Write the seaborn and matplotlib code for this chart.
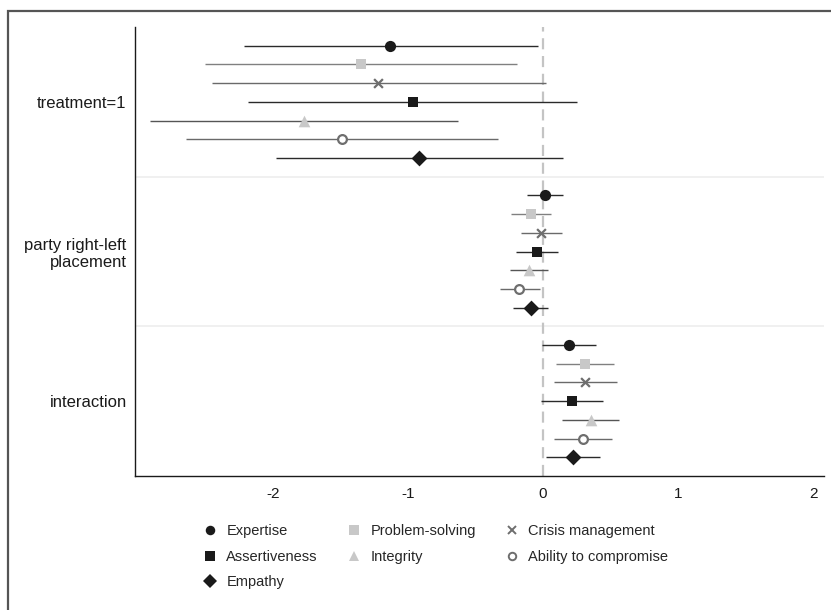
import numpy as np
import pandas as pd
import seaborn as sns
import matplotlib.pyplot as plt
from matplotlib.lines import Line2D
from matplotlib.patches import Rectangle

# ── Data ─────────────────────────────────────────────────────────────────────
groups = ["treatment=1", "party right-left\nplacement", "interaction"]
traits = ["Expertise", "Problem-solving", "Crisis management", "Assertiveness",
          "Integrity", "Ability to compromise", "Empathy"]

est_treat = [-1.13, -1.35, -1.22, -0.96, -1.77, -1.49, -0.92]
lo_treat  = [-2.21, -2.50, -2.45, -2.18, -2.91, -2.64, -1.98]
hi_treat  = [-0.04, -0.19, 0.02, 0.25, -0.63, -0.33, 0.15]

est_party = [0.015, -0.09, -0.015, -0.045, -0.105, -0.175, -0.09]
lo_party  = [-0.115, -0.235, -0.165, -0.20, -0.245, -0.32, -0.22]
hi_party  = [0.15, 0.06, 0.14, 0.11, 0.04, -0.02, 0.04]

est_inter = [0.19, 0.31, 0.31, 0.215, 0.355, 0.295, 0.225]
lo_inter  = [-0.005, 0.095, 0.08, -0.015, 0.14, 0.085, 0.025]
hi_inter  = [0.395, 0.525, 0.545, 0.445, 0.565, 0.51, 0.425]

rows = []
for g, (est, lo, hi) in enumerate([(est_treat, lo_treat, hi_treat),
                                   (est_party, lo_party, hi_party),
                                   (est_inter, lo_inter, hi_inter)]):
    for k, t in enumerate(traits):
        rows.append({"group": groups[g], "trait": t, "est": est[k],
                     "lo": lo[k], "hi": hi[k], "y": g * 8 + k})
df = pd.DataFrame(rows)

# ── Styles ───────────────────────────────────────────────────────────────────
markers   = {"Expertise": "o", "Problem-solving": "s", "Crisis management": "x",
             "Assertiveness": "s", "Integrity": "^", "Ability to compromise": "o",
             "Empathy": "D"}
fills     = {"Expertise": "#1a1a1a", "Problem-solving": "#c8c8c8",
             "Crisis management": "#6e6e6e", "Assertiveness": "#1a1a1a",
             "Integrity": "#c8c8c8", "Ability to compromise": "white",
             "Empathy": "#1a1a1a"}
edges     = {"Expertise": "#1a1a1a", "Problem-solving": "#c8c8c8",
             "Crisis management": "#6e6e6e", "Assertiveness": "#1a1a1a",
             "Integrity": "#c8c8c8", "Ability to compromise": "#6e6e6e",
             "Empathy": "#1a1a1a"}
sizes     = {"Expertise": 65, "Problem-solving": 60, "Crisis management": 40,
             "Assertiveness": 60, "Integrity": 70, "Ability to compromise": 40,
             "Empathy": 65}
linecols  = {"Expertise": "#2a2a2a", "Problem-solving": "#808080",
             "Crisis management": "#6a6a6a", "Assertiveness": "#2a2a2a",
             "Integrity": "#555555", "Ability to compromise": "#6a6a6a",
             "Empathy": "#2a2a2a"}

sns.set_style("white")
plt.rcParams["font.family"] = ["Liberation Sans", "DejaVu Sans"]

fig = plt.figure(figsize=(8.31, 6.10), dpi=100)
ax = fig.add_axes([135 / 831, 1 - 476 / 610, (824 - 135) / 831, (476 - 27) / 610])

# group separators and zero line
for s in [7, 15]:
    ax.axhline(s, color="#eeeeee", lw=1.2, zorder=0)
ax.axvline(0, color="#c4c4c4", lw=1.6, ls=(0, (5, 3)), zorder=1)

for t in traits:
    sub = df[df["trait"] == t]
    ax.hlines(sub["y"], sub["lo"], sub["hi"], color=linecols[t], lw=1.0, zorder=2)
    sns.scatterplot(data=sub, x="est", y="y", marker=markers[t], s=sizes[t],
                    color=fills[t], edgecolor=edges[t],
                    linewidth=1.6 if t in ("Crisis management", "Ability to compromise") else 0,
                    ax=ax, legend=False, zorder=3)

ax.set_xlim(-3.02, 2.08)
ax.set_ylim(23, -1)
ax.set_xticks([-2, -1, 0, 1, 2])
ax.set_xticklabels(["-2", "-1", "0", "1", "2"])
ax.set_yticks([3, 11, 19])
ax.set_yticklabels(groups)
ax.set_xlabel("")
ax.set_ylabel("")
ax.tick_params(axis="both", length=0, colors="#1a1a1a")
ax.tick_params(axis="x", pad=8, labelsize=11)
ax.tick_params(axis="y", pad=6, labelsize=12)
for side in ["top", "right"]:
    ax.spines[side].set_visible(False)
for side in ["left", "bottom"]:
    ax.spines[side].set_color("#1a1a1a")
    ax.spines[side].set_linewidth(1.0)

# legend (column-wise fill)
order = ["Expertise", "Assertiveness", "Empathy", "Problem-solving", "Integrity",
         "Crisis management", "Ability to compromise"]
handles = []
for t in order:
    handles.append(Line2D([], [], ls="none", marker=markers[t],
                          markersize=np.sqrt(sizes[t]) * 0.85,
                          markerfacecolor=fills[t], markeredgecolor=edges[t],
                          markeredgewidth=1.4 if t in ("Crisis management", "Ability to compromise") else 0,
                          label=t))
fig.legend(handles=handles, ncol=3, loc="upper left",
           bbox_to_anchor=(190 / 831, 1 - 511 / 610), frameon=False,
           fontsize=10.5, handlelength=1.0, handletextpad=0.6,
           columnspacing=2.0, labelspacing=0.8)

# outer frame
fig.patches.append(Rectangle((8 / 831, -0.1), 1.2, 1 - 11 / 610 + 0.1,
                             transform=fig.transFigure, fill=False,
                             edgecolor="#555555", lw=1.6, zorder=-1))

fig.savefig("out.png", dpi=100)
